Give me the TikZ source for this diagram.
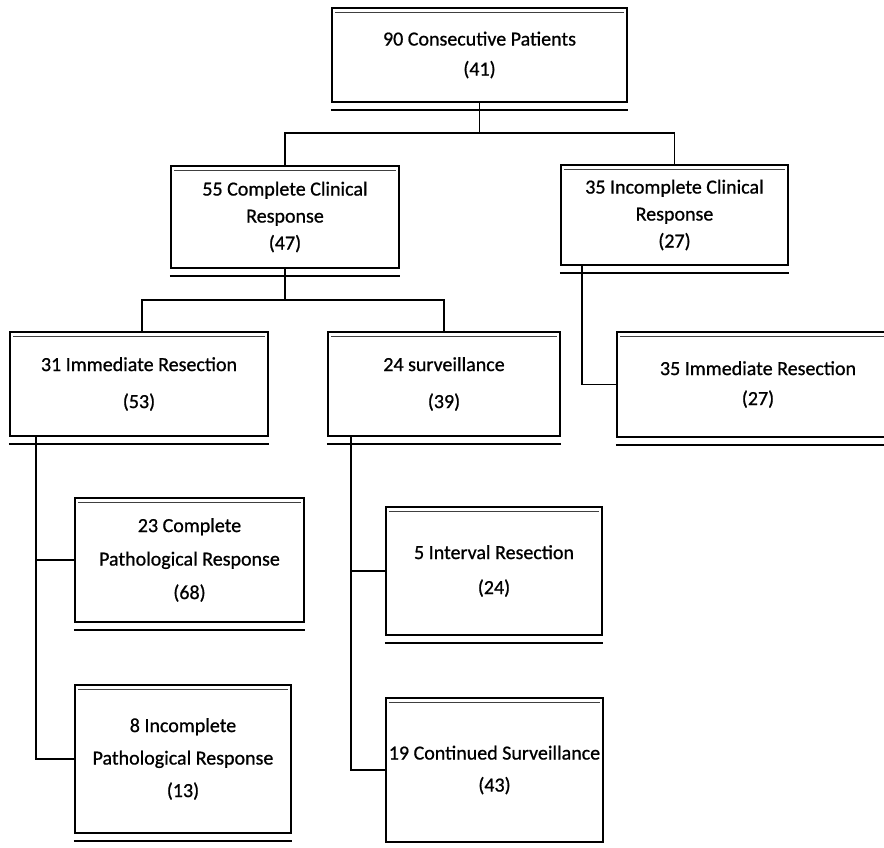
\documentclass[tikz,border=0pt]{standalone}
\usepackage{fontspec}
\setmainfont{Carlito}
\newfontfamily\scanfont{Carlito}[FakeBold=0.8]
\begin{document}
\begin{tikzpicture}[x=1pt,y=-1pt,
  box/.style={draw, line width=2.3pt, rectangle, inner sep=0pt, align=center},
  fs/.style={font=\scanfont\fontsize{20}{#1}\selectfont},
  conn/.style={line width=1.8pt},
  shadowline/.style={line width=1.4pt},
  topline/.style={line width=0.8pt, black!75}]
\useasboundingbox (0,0) rectangle (884,848);

\node[box, fs=30, minimum width=295pt, minimum height=94pt] (b1) at (479.5,55) {90 Consecutive Patients\\(41)};
\node[box, fs=27, minimum width=228pt, minimum height=102pt] (b2) at (285,217) {55 Complete Clinical\\Response\\(47)};
\node[box, fs=27, minimum width=227pt, minimum height=100pt] (b3) at (674.5,215) {35 Incomplete Clinical\\Response\\(27)};
\node[box, fs=37, minimum width=258pt, minimum height=104pt] (b4) at (139,384) {31 Immediate Resection\\(53)};
\node[box, fs=37, minimum width=232pt, minimum height=104pt] (b5) at (444,384) {24 surveillance\\(39)};
\node[box, fs=30, minimum width=282pt, minimum height=105pt] (b6) at (758,384.5) {35 Immediate Resection\\(27)};
\node[box, fs=33.5, minimum width=229pt, minimum height=124pt] (b7) at (189.5,560) {23 Complete\\Pathological Response\\(68)};
\node[box, fs=35, minimum width=216pt, minimum height=128pt] (b8) at (494,571) {5 Interval Resection\\(24)};
\node[box, fs=32.5, minimum width=216pt, minimum height=148pt] (b9) at (183,759) {8 Incomplete\\Pathological Response\\(13)};
\node[box, fs=32, minimum width=217pt, minimum height=144pt] (b10) at (494.5,770) {19 Continued Surveillance\\(43)};

% scan-like double lines under and inside each box
\foreach \b in {b1,b2,b3,b4,b5,b6,b7,b8,b9,b10}{
  \draw[shadowline] ([yshift=-7pt]\b.south west) -- ([yshift=-7pt]\b.south east);
  \draw[topline] ([shift={(4pt,-6pt)}]\b.north west) -- ([shift={(-4pt,-6pt)}]\b.north east);
}

% connectors
\coordinate (j1) at (479.5,133);
\draw[conn] (b1.south) -- (j1);
\draw[conn] (b2.north) |- (j1) -| (b3.north);

\coordinate (j2) at (285,300);
\draw[conn] (b2.south) -- (j2);
\draw[conn] ([xshift=3pt]b4.north) |- (j2) -| (b5.north);

\draw[conn] ([xshift=22pt]b3.south west) |- (b6.west);

\draw[conn] ([xshift=27pt]b4.south west) |- (b9.west);
\draw[conn] ([xshift=27pt]b4.south west) |- (b7.west);

\draw[conn] ([xshift=24pt]b5.south west) |- (b10.west);
\draw[conn] ([xshift=24pt]b5.south west) |- (b8.west);
\end{tikzpicture}
\end{document}
